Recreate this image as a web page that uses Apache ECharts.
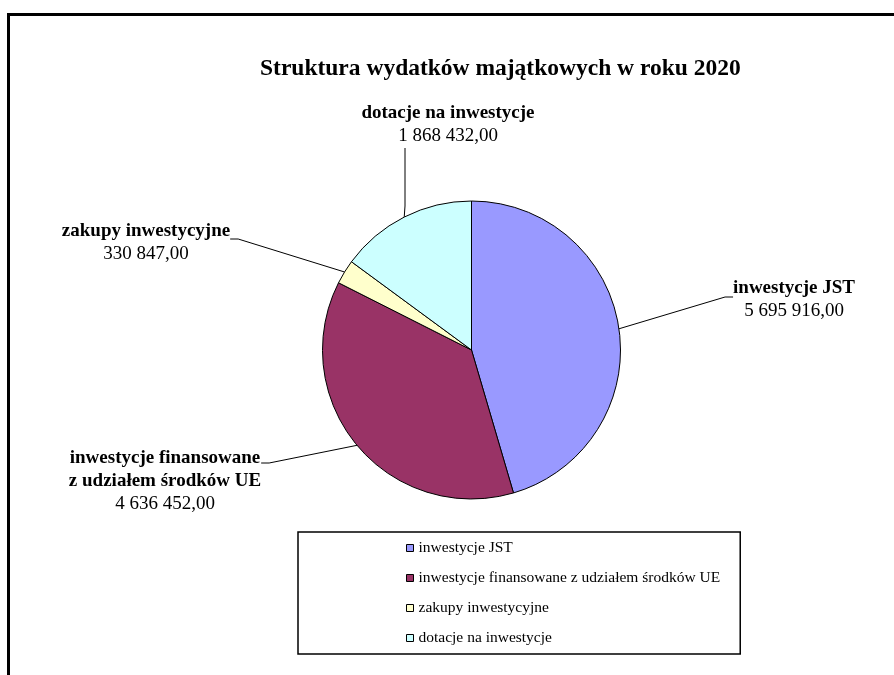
<!DOCTYPE html>
<html>
<head>
<meta charset="utf-8">
<script src="https://cdn.jsdelivr.net/npm/echarts@6/dist/echarts.min.js"></script>
<style>
html,body{margin:0;padding:0;background:#fff;}
#chart{width:894px;height:675px;}
</style>
</head>
<body>
<div id="chart"></div>
<script>
const chartTitle = 'Struktura wydatków majątkowych w roku 2020';
const categories = ['inwestycje JST', 'inwestycje finansowane z udziałem środków UE', 'zakupy inwestycyjne', 'dotacje na inwestycje'];
const labelNames = ['inwestycje JST', 'inwestycje finansowane\nz udziałem środków UE', 'zakupy inwestycyjne', 'dotacje na inwestycje'];
const values = [5695916, 4636452, 330847, 1868432];
const colors = ['#9999FF', '#993366', '#FFFFCC', '#CCFFFF'];

// label placement (layout only): anchor point, extra padding to steer leader line, leader tail length
const labelPlacement = [
  { x: 794, y: 297, pad: [6, 0, 0, 0], tail: 8 },
  { x: 165, y: 463, pad: [36, 0, 0, 0], tail: 8 },
  { x: 146, y: 239, pad: [8, 0, 0, 0], tail: 8 },
  { x: 405, y: 125, pad: [0, 0, 0, 86], tail: 58 }
];

function fmt(v) {
  const p = v.toFixed(2).split('.');
  return p[0].replace(/\B(?=(\d{3})+(?!\d))/g, ' ') + ',' + p[1];
}

const FONT = '"Liberation Serif", "Times New Roman", serif';
const chart = echarts.init(document.getElementById('chart'), null, { renderer: 'canvas' });

chart.setOption({
  backgroundColor: '#fff',
  animation: false,
  title: {
    text: chartTitle,
    left: 260,
    top: 57,
    padding: 0,
    textStyle: { fontFamily: FONT, fontWeight: 'bold', fontSize: 23.5, color: '#000' }
  },
  graphic: [{
    type: 'rect',
    shape: { x: 8.5, y: 14.5, width: 900, height: 700 },
    style: { fill: 'none', stroke: '#000', lineWidth: 3 },
    silent: true,
    z: -1
  }],
  legend: {
    orient: 'vertical',
    left: 298,
    top: 532,
    padding: [8, 20, 8, 108],
    itemGap: 14,
    itemWidth: 7,
    itemHeight: 7,
    icon: 'rect',
    borderColor: '#000',
    borderWidth: 1.5,
    borderRadius: 0,
    itemStyle: { borderColor: '#000', borderWidth: 1 },
    textStyle: { fontFamily: FONT, fontSize: 15.5, color: '#000', lineHeight: 16 },
    data: categories
  },
  series: [{
    type: 'pie',
    center: [471.5, 350],
    radius: 149,
    startAngle: 90,
    clockwise: true,
    avoidLabelOverlap: false,
    itemStyle: { borderColor: '#000', borderWidth: 1 },
    emphasis: { disabled: true },
    label: {
      show: true,
      position: 'outside',
      color: '#000',
      backgroundColor: 'rgba(255,255,255,0)',
      formatter: function (p) {
        return '{n|' + labelNames[p.dataIndex] + '}\n{v|' + fmt(p.value) + '}';
      },
      rich: {
        n: { fontFamily: FONT, fontWeight: 'bold', fontSize: 19, lineHeight: 23, color: '#000', align: 'center' },
        v: { fontFamily: FONT, fontSize: 19, lineHeight: 23, color: '#000', align: 'center' }
      }
    },
    labelLine: {
      show: true,
      length: 10,
      length2: 8,
      lineStyle: { color: '#000', width: 1 }
    },
    labelLayout: function (params) {
      const pl = labelPlacement[params.dataIndex];
      return { x: pl.x, y: pl.y, align: 'center', verticalAlign: 'middle' };
    },
    data: categories.map(function (c, i) {
      const pl = labelPlacement[i];
      return {
        name: c,
        value: values[i],
        itemStyle: { color: colors[i] },
        label: { padding: pl.pad, backgroundColor: 'rgba(255,255,255,0)' },
        labelLine: { length2: pl.tail }
      };
    })
  }]
});
</script>
</body>
</html>
